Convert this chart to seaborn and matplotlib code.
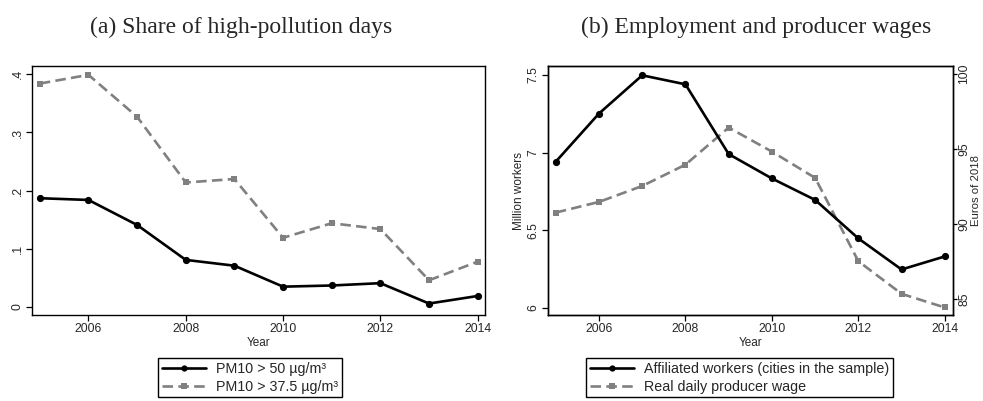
import matplotlib
matplotlib.use("Agg")
import matplotlib.pyplot as plt
import seaborn as sns
import pandas as pd
from matplotlib.lines import Line2D

years = [2005, 2006, 2007, 2008, 2009, 2010, 2011, 2012, 2013, 2014]
pm_50 = [0.187, 0.184, 0.141, 0.081, 0.071, 0.035, 0.037, 0.041, 0.006, 0.019]
pm_375 = [0.384, 0.399, 0.327, 0.214, 0.220, 0.119, 0.144, 0.134, 0.046, 0.078]
workers = [6.942, 7.252, 7.498, 7.440, 6.991, 6.834, 6.696, 6.448, 6.248, 6.332]
wage = [90.77, 91.48, 92.54, 93.96, 96.43, 94.83, 93.08, 87.53, 85.36, 84.45]

left_yticks = [0, 0.1, 0.2, 0.3, 0.4]
left_yticklabels = ["0", ".1", ".2", ".3", ".4"]
workers_ticks = [6, 6.5, 7, 7.5]
workers_ticklabels = ["6", "6.5", "7", "7.5"]
wage_ticks = [85, 90, 95, 100]
xticks = [2006, 2008, 2010, 2012, 2014]

title_a = "(a) Share of high-pollution days"
title_b = "(b) Employment and producer wages"
lab_pm50 = "PM10 > 50 µg/m³"
lab_pm375 = "PM10 > 37.5 µg/m³"
lab_workers = "Affiliated workers (cities in the sample)"
lab_wage = "Real daily producer wage"

sns.set_theme(style="ticks")
plt.rcParams["font.family"] = ["Liberation Sans", "DejaVu Sans"]

BLACK = "#000000"
GRAY = "#808080"
LW = 1.9
DASH = (0, (4, 2))
TFS = 8.8
MS_C = 5.2
MS_S = 4.3

df_a = pd.DataFrame({"year": years, "pm50": pm_50, "pm375": pm_375})
df_b = pd.DataFrame({"year": years, "workers": workers, "wage": wage})

W, H = 983, 401
fig = plt.figure(figsize=(W / 100, H / 100), dpi=100)
fig.patch.set_facecolor("white")

def frac_axes(x0, y0, x1, y1):
    return fig.add_axes([x0 / W, 1 - y1 / H, (x1 - x0) / W, (y1 - y0) / H])

ax1 = frac_axes(32, 66, 485, 315)
ax2 = frac_axes(548, 66, 953, 315)
ax3 = ax2.twinx()

sns.lineplot(data=df_a, x="year", y="pm50", ax=ax1, color=BLACK, linewidth=LW,
             marker="o", markersize=MS_C, markeredgewidth=0, legend=False, zorder=3)
sns.lineplot(data=df_a, x="year", y="pm375", ax=ax1, color=GRAY, linewidth=LW,
             linestyle=DASH, marker="s", markersize=MS_S, markeredgewidth=0, legend=False)

sns.lineplot(data=df_b, x="year", y="workers", ax=ax2, color=BLACK, linewidth=LW,
             marker="o", markersize=MS_C, markeredgewidth=0, legend=False, zorder=3)
sns.lineplot(data=df_b, x="year", y="wage", ax=ax3, color=GRAY, linewidth=LW,
             linestyle=DASH, marker="s", markersize=MS_S, markeredgewidth=0, legend=False)
ax2.set_zorder(ax3.get_zorder() + 1)
ax2.patch.set_visible(False)
ax3.set_facecolor("white")
ax1.set_facecolor("white")

for ax in (ax1, ax2, ax3):
    for s in ax.spines.values():
        s.set_visible(True)
        s.set_color("black")
        s.set_linewidth(1.0)
    ax.tick_params(axis="both", length=4, width=0.9, color="black",
                   labelsize=TFS, pad=2, direction="out")

ax1.set_xlim(2004.84, 2014.15)
ax1.set_ylim(-0.0137, 0.4142)
ax1.set_xticks(xticks)
ax1.set_yticks(left_yticks)
ax1.set_yticklabels(left_yticklabels, rotation=90, va="center")
ax1.set_xlabel("Year", fontsize=8.5, labelpad=1)
ax1.set_ylabel("")

ax2.set_xlim(2004.82, 2014.19)
ax2.set_ylim(5.955, 7.558)
ax2.set_xticks(xticks)
ax2.set_yticks(workers_ticks)
ax2.set_yticklabels(workers_ticklabels, rotation=90, va="center")
ax2.set_xlabel("Year", fontsize=8.5, labelpad=1)
ax2.set_ylabel("Million workers", fontsize=8.5, labelpad=2)

ax3.set_ylim(83.95, 100.53)
ax3.set_yticks(wage_ticks)
ax3.set_yticklabels([str(t) for t in wage_ticks], rotation=90, va="center")
ax3.tick_params(axis="y", right=True, left=False, length=3, pad=1)
ax3.set_ylabel("Euros of 2018", fontsize=8.2)
ax3.yaxis.set_label_coords((976 - 548) / 405, 0.5)
ax3.yaxis.label.set_horizontalalignment("center")
ax3.yaxis.label.set_verticalalignment("center")
for ax in (ax1, ax2):
    ax.tick_params(axis="x", top=False)
    ax.tick_params(axis="y", right=False)

serif = ["Liberation Serif", "DejaVu Serif"]
fig.text(241 / W, 1 - 27 / H, title_a, ha="center", va="center", fontsize=17, family=serif)
fig.text(756 / W, 1 - 27 / H, title_b, ha="center", va="center", fontsize=17, family=serif)

def handles(kind):
    if kind == "black":
        return Line2D([], [], color=BLACK, linewidth=LW, marker="o", markersize=4.5, markeredgewidth=0)
    return Line2D([], [], color=GRAY, linewidth=LW, linestyle=DASH, marker="s", markersize=4, markeredgewidth=0)

leg_kw = dict(loc="upper left", bbox_transform=fig.transFigure, borderaxespad=0,
              fancybox=False, framealpha=1, edgecolor="black", fontsize=10.3,
              handlelength=3.1, handletextpad=0.7, labelspacing=0.3, borderpad=0.25,
              numpoints=1)
lg1 = fig.legend([handles("black"), handles("gray")], [lab_pm50, lab_pm375],
                 bbox_to_anchor=(158 / W, 1 - 358 / H), **leg_kw)
lg1.get_frame().set_linewidth(1.0)
lg2 = fig.legend([handles("black"), handles("gray")], [lab_workers, lab_wage],
                 bbox_to_anchor=(586 / W, 1 - 358 / H), **leg_kw)
lg2.get_frame().set_linewidth(1.0)

fig.savefig("out.png", dpi=100)
